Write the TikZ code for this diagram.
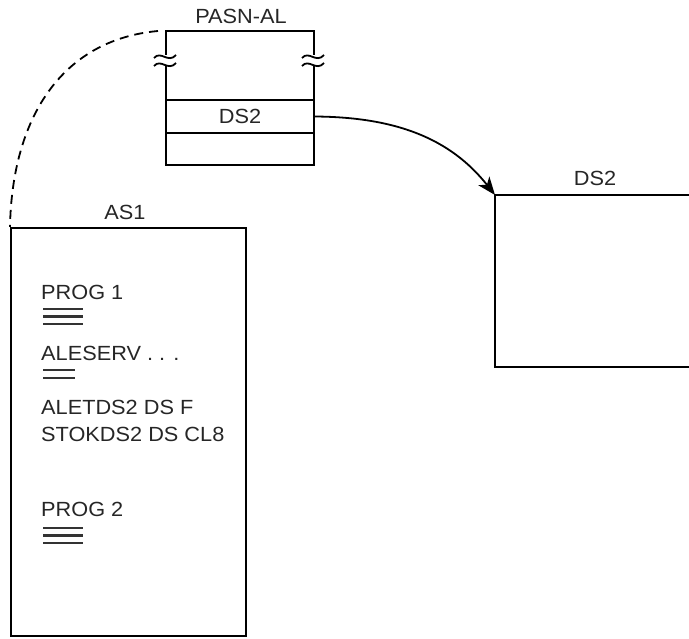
\documentclass[tikz,border=0pt]{standalone}
\usepackage{fontspec}
\setmainfont{Liberation Sans}[FakeStretch=1.06]
\usetikzlibrary{arrows.meta}
\begin{document}
\begin{tikzpicture}[x=1pt,y=-1pt,
  lw/.style={line width=2.1pt},
  lbl/.style={inner sep=0pt,text=black!85,font=\fontsize{20.5}{23}\selectfont},
  txt/.style={lbl,anchor=west},
  bar/.style={line width=2.3pt,black!80},
  wave/.style={line width=1.8pt}]
\useasboundingbox (0,0) rectangle (689,639);
% PASN-AL box
\coordinate (ptl) at (166,31);
\coordinate (ptr) at (314,31);
\coordinate (pbl) at (166,165);
\coordinate (pbr) at (314,165);
\draw[lw] (166,55) -- (ptl) -- (ptr) -- (314,55);
\draw[lw] (166,66) -- (pbl) -- (pbr) -- (314,66);
\draw[lw] (166,100) -- (314,100);
\draw[lw] (166,133) -- (314,133);
\foreach \xx in {166,314}{
  \draw[wave] (\xx-12,58) .. controls (\xx-5,50) and (\xx+2,64) .. (\xx+10,55);
  \draw[wave] (\xx-12,66) .. controls (\xx-5,58) and (\xx+2,72) .. (\xx+10,63);
}
\node[lbl] (pasnlbl) at (241,16) {PASN-AL};
\node[lbl,minimum width=148pt,minimum height=33pt] (pds2) at (240,116.5) {DS2};
% AS1 box
\node[lw,draw,inner sep=0pt,minimum width=235pt,minimum height=408pt,anchor=north west] (as1) at (10,227) {};
\node[lbl] (as1lbl) at (125,212) {AS1};
% DS2 box (open on the right)
\coordinate (dtl) at (495,195);
\coordinate (dbl) at (495,367);
\draw[lw] (692,195) -- (dtl) -- (dbl) -- (692,367);
\node[lbl] (ds2lbl) at (595,178) {DS2};
% texts in AS1
\node[txt] (p1) at (41,292) {PROG 1};
\foreach \yy in {309,316.5,324} \draw[bar] (43,\yy) -- (83,\yy);
\node[txt] (al) at (41,353) {ALESERV . . .};
\foreach \yy in {370,378} \draw[bar] (43,\yy) -- (75,\yy);
\node[txt] (ale) at (41,407) {ALETDS2 DS F};
\node[txt] (sto) at (41,434) {STOKDS2 DS CL8};
\node[txt] (p2) at (41,509) {PROG 2};
\foreach \yy in {528,535.5,543} \draw[bar] (43,\yy) -- (83,\yy);
% connectors
\draw[line width=1.8pt,dash pattern=on 9pt off 6pt] (158,31) .. controls (60,40) and (12,120) .. (as1.north west);
\draw[line width=1.8pt,-{Stealth[length=18pt,width=14pt,inset=5pt]}] (pds2.east) .. controls (395,117) and (450,138) .. (dtl);
\end{tikzpicture}
\end{document}
